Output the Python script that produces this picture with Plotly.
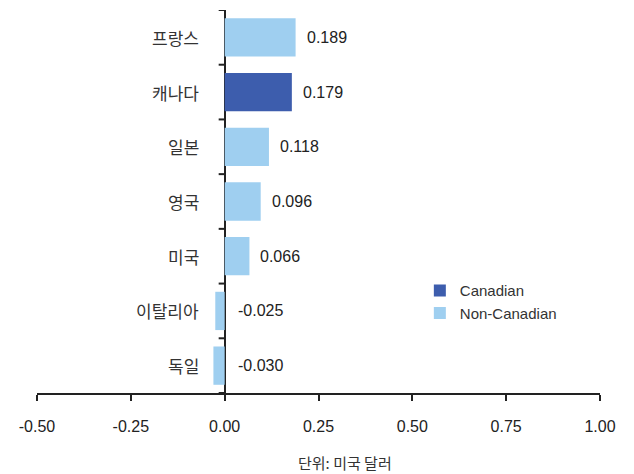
import plotly.graph_objects as go

countries = ["프랑스", "캐나다", "일본", "영국", "미국", "이탈리아", "독일"]
values = [0.189, 0.179, 0.118, 0.096, 0.066, -0.025, -0.030]
groups = ["Non-Canadian", "Canadian", "Non-Canadian", "Non-Canadian", "Non-Canadian", "Non-Canadian", "Non-Canadian"]
x_ticks = [-0.50, -0.25, 0.00, 0.25, 0.50, 0.75, 1.00]
x_tick_labels = ["-0.50", "-0.25", "0.00", "0.25", "0.50", "0.75", "1.00"]
unit_label = "단위: 미국 달러"

colors = {"Canadian": "#3D5DAD", "Non-Canadian": "#9FCFF0"}
FONT = "Liberation Sans, Arial, Noto Sans CJK KR, sans-serif"
KFONT = "Noto Sans CJK KR, Liberation Sans, sans-serif"

fig = go.Figure()
for g in ["Canadian", "Non-Canadian"]:
    ys = [c for c, gg in zip(countries, groups) if gg == g]
    xs = [v for v, gg in zip(values, groups) if gg == g]
    fig.add_trace(go.Bar(
        x=xs, y=ys, orientation="h", name=g,
        marker=dict(color=colors[g], line=dict(width=0)),
        width=0.7,
    ))

# value labels
for c, v in zip(countries, values):
    fig.add_annotation(x=max(v, 0), y=c, xref="x", yref="y",
                       text=f"{v:.3f}", showarrow=False, xanchor="left",
                       xshift=9 if v > 0 else 11,
                       font=dict(family=FONT, size=16, color="#222222"))
    fig.add_annotation(x=0, y=c, xref="x", yref="y", text=c, showarrow=False,
                       xanchor="right", xshift=-24,
                       font=dict(family=KFONT, size=17, color="#333333"))

# y-axis boundary ticks
for i in range(len(countries) + 1):
    fig.add_shape(type="line", xref="x", yref="y", xsizemode="pixel", xanchor=0,
                  x0=-6, x1=0, y0=i - 0.5, y1=i - 0.5,
                  line=dict(color="#222222", width=2))

fig.add_annotation(x=0.32, y=0, xref="x", yref="paper", yanchor="top", yshift=-57,
                   text=unit_label, showarrow=False,
                   font=dict(family=KFONT, size=15, color="#333333"))

fig.update_layout(
    width=634, height=474,
    margin=dict(l=37, r=34, t=10, b=81),
    paper_bgcolor="white", plot_bgcolor="white",
    barmode="overlay",
    showlegend=True,
    legend=dict(x=0.68, y=0.31, xanchor="left", yanchor="top",
                font=dict(family=FONT, size=15, color="#333333"),
                itemwidth=30, tracegroupgap=0, bgcolor="rgba(0,0,0,0)"),
    xaxis=dict(range=[-0.5, 1.0], tickvals=x_ticks, ticktext=x_tick_labels,
               showgrid=False, zeroline=True, zerolinecolor="#222222", zerolinewidth=2,
               showline=True, linecolor="#222222", linewidth=2,
               ticks="outside", ticklen=6, tickwidth=2, tickcolor="#222222",
               ticklabelstandoff=12,
               tickfont=dict(family=FONT, size=16, color="#222222")),
    yaxis=dict(categoryorder="array", categoryarray=countries[::-1],
               range=[-0.5, len(countries) - 0.5],
               showticklabels=False, showgrid=False, zeroline=False, showline=False),
)

fig.write_html("out.html")
